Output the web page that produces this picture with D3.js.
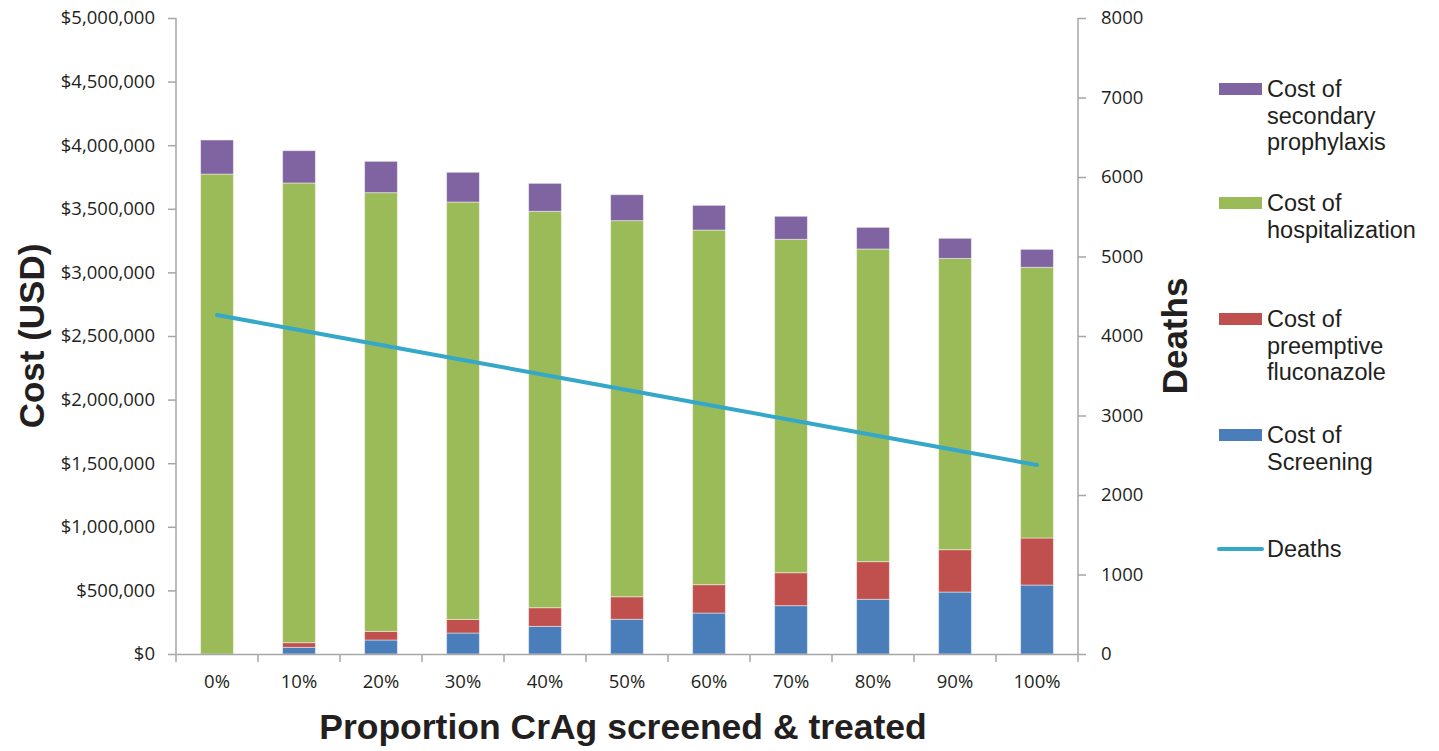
<!DOCTYPE html>
<html>
<head>
<meta charset="utf-8">
<script src="https://cdn.jsdelivr.net/npm/d3@7"></script>
<style>
  body { margin: 0; background: #fff; }
  text { font-family: "Liberation Sans", Arial, sans-serif; fill: #231f20; }
</style>
</head>
<body>
<div id="chart"></div>
<script>
// Data
var categories = ["0%", "10%", "20%", "30%", "40%", "50%", "60%", "70%", "80%", "90%", "100%"];
var screening = [0, 52000, 110000, 165000, 217000, 273000, 322000, 380000, 430000, 487000, 542000];
var fluconazole = [0, 37000, 68000, 107000, 147000, 177000, 223000, 259000, 296000, 333000, 370000];
var hospitalization = [3773000, 3614000, 3449000, 3281000, 3116000, 2957000, 2788000, 2621000, 2458000, 2290000, 2128000];
var prophylaxis = [268000, 254000, 246000, 234000, 220000, 204000, 194000, 181000, 170000, 158000, 141000];
var deaths = [4265, 4075, 3887, 3698, 3510, 3321, 3132, 2943, 2755, 2566, 2377];

var costTicks = [0, 500000, 1000000, 1500000, 2000000, 2500000, 3000000, 3500000, 4000000, 4500000, 5000000];
var deathTicks = [0, 1000, 2000, 3000, 4000, 5000, 6000, 7000, 8000];

var svgWidth = 1439;
var svgHeight = 751;
var margin = { top: 18, right: 361, bottom: 97, left: 176 };
var chartWidth = svgWidth - margin.left - margin.right;
var chartHeight = svgHeight - margin.top - margin.bottom;

var svg = d3.select("#chart")
  .append("svg")
  .attr("width", svgWidth)
  .attr("height", svgHeight);

var chartGroup = svg.append("g")
  .attr("transform", `translate(${margin.left}, ${margin.top})`);

// scales
var xBand = d3.scaleBand().domain(categories).range([0, chartWidth]);
var y = d3.scaleLinear().domain([0, 5000000]).range([chartHeight, 0]);
var y2 = d3.scaleLinear().domain([0, 8000]).range([chartHeight, 0]);

// stacked series
var keys = ["screening", "fluconazole", "hospitalization", "prophylaxis"];
var colors = {
  screening: "#4a7ebb",
  fluconazole: "#c0504d",
  hospitalization: "#9bbb59",
  prophylaxis: "#8064a2"
};
var rows = categories.map(function (c, i) {
  return {
    cat: c,
    screening: screening[i],
    fluconazole: fluconazole[i],
    hospitalization: hospitalization[i],
    prophylaxis: prophylaxis[i]
  };
});
var stack = d3.stack().keys(keys)(rows);

chartGroup.selectAll("g.layer")
  .data(stack)
  .enter()
  .append("g")
  .attr("class", "layer")
  .attr("fill", function (d) { return colors[d.key]; })
  .selectAll("rect")
  .data(function (d) { return d; })
  .enter()
  .append("rect")
  .attr("x", function (d) { return xBand(d.data.cat) + xBand.bandwidth() * 0.3; })
  .attr("width", xBand.bandwidth() * 0.4)
  .attr("y", function (d) { return y(d[1]); })
  .attr("height", function (d) { return Math.max(0, y(d[0]) - y(d[1])); })
  .attr("stroke", "#fff")
  .attr("stroke-opacity", 0.45)
  .attr("stroke-width", 1);

// deaths line
var line = d3.line()
  .x(function (d, i) { return xBand(categories[i]) + xBand.bandwidth() / 2; })
  .y(function (d) { return y2(d); });

chartGroup.append("path")
  .datum(deaths)
  .attr("d", line)
  .attr("fill", "none")
  .attr("stroke", "#35a8c9")
  .attr("stroke-width", 4)
  .attr("stroke-linecap", "round");

// axes
var axisColor = "#a6a6a6";

var yAxis = d3.axisLeft(y)
  .tickValues(costTicks)
  .tickSize(8)
  .tickPadding(13)
  .tickFormat(function (d) { return "$" + d3.format(",")(d); });

var gy = chartGroup.append("g").call(yAxis);

var y2Axis = d3.axisRight(y2)
  .tickValues(deathTicks)
  .tickSize(8)
  .tickPadding(15)
  .tickFormat(d3.format("d"));

var gy2 = chartGroup.append("g")
  .attr("transform", `translate(${chartWidth}, 0)`)
  .call(y2Axis);

var xAxis = d3.axisBottom(xBand).tickSize(0).tickPadding(21);
var gx = chartGroup.append("g")
  .attr("transform", `translate(0, ${chartHeight})`)
  .call(xAxis);

// boundary ticks on the x axis
gx.selectAll("line.bound")
  .data(d3.range(categories.length + 1))
  .enter()
  .append("line")
  .attr("class", "bound")
  .attr("x1", function (i) { return i * xBand.step(); })
  .attr("x2", function (i) { return i * xBand.step(); })
  .attr("y1", 0)
  .attr("y2", 8);

[gy, gy2, gx].forEach(function (g) {
  g.select(".domain").attr("stroke", axisColor).attr("stroke-width", 1.5);
  g.selectAll("line").attr("stroke", axisColor).attr("stroke-width", 1.5);
  g.selectAll("text")
    .style("font-family", "'Open Sans', 'DejaVu Sans', sans-serif")
    .style("font-size", "18.5px")
    .attr("fill", "#231f20");
});
gy.select(".domain").attr("d", `M0,0V${chartHeight}`);
gy2.select(".domain").attr("d", `M0,0V${chartHeight}`);

// axis titles
svg.append("text")
  .attr("transform", `translate(44, ${margin.top + chartHeight / 2}) rotate(-90)`)
  .attr("text-anchor", "middle")
  .style("font-size", "35px")
  .style("font-weight", "bold")
  .text("Cost (USD)");

svg.append("text")
  .attr("transform", `translate(1187, ${margin.top + chartHeight / 2}) rotate(-90)`)
  .attr("text-anchor", "middle")
  .style("font-size", "35px")
  .style("font-weight", "bold")
  .text("Deaths");

svg.append("text")
  .attr("x", 623)
  .attr("y", 739)
  .attr("text-anchor", "middle")
  .style("font-size", "35.5px")
  .style("font-weight", "bold")
  .text("Proportion CrAg screened & treated");

// legend
var legendItems = [
  { lines: ["Cost of", "secondary", "prophylaxis"], color: colors.prophylaxis, cy: 89 },
  { lines: ["Cost of", "hospitalization"], color: colors.hospitalization, cy: 203 },
  { lines: ["Cost of", "preemptive", "fluconazole"], color: colors.fluconazole, cy: 319 },
  { lines: ["Cost of", "Screening"], color: colors.screening, cy: 435 },
  { lines: ["Deaths"], color: "#35a8c9", cy: 549, isLine: true }
];

var legend = svg.append("g");
legendItems.forEach(function (item) {
  if (item.isLine) {
    legend.append("line")
      .attr("x1", 1219).attr("x2", 1262)
      .attr("y1", item.cy).attr("y2", item.cy)
      .attr("stroke", item.color)
      .attr("stroke-width", 4)
      .attr("stroke-linecap", "round");
  } else {
    legend.append("rect")
      .attr("x", 1219).attr("y", item.cy - 6)
      .attr("width", 43).attr("height", 12)
      .attr("fill", item.color);
  }
  var t = legend.append("text")
    .attr("x", 1267)
    .attr("y", item.cy + 8)
    .style("font-size", "23.5px");
  item.lines.forEach(function (l, i) {
    t.append("tspan")
      .attr("x", 1267)
      .attr("dy", i === 0 ? 0 : 26.5)
      .text(l);
  });
});
</script>
</body>
</html>
